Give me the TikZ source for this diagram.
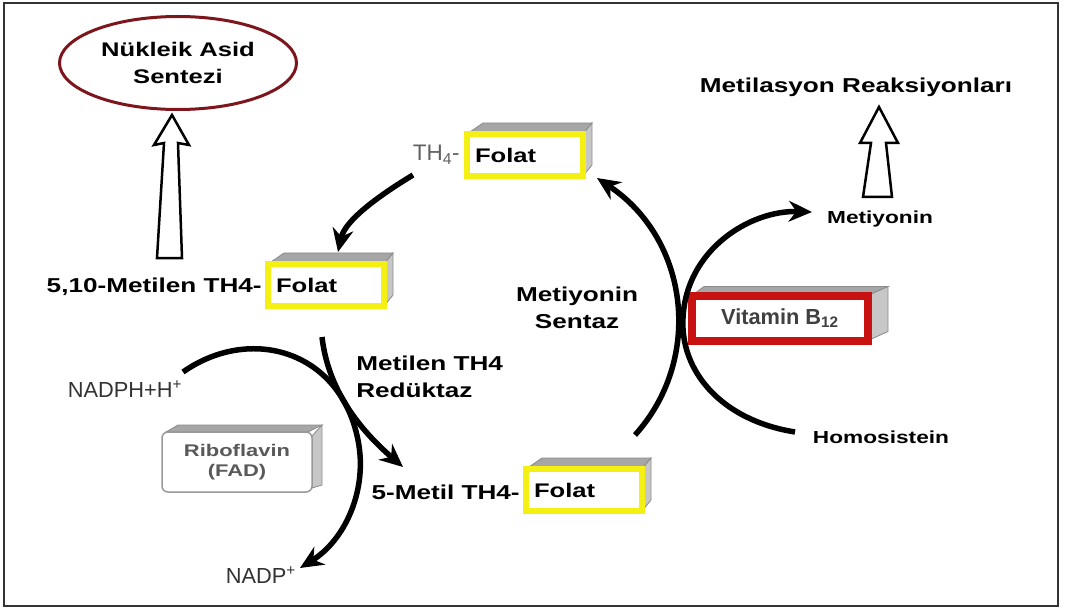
\documentclass[tikz,border=0pt]{standalone}
\usepackage{fontspec}
\setmainfont{Liberation Sans}
\newfontfamily\wide[FakeStretch=1.3]{Liberation Sans}
\usetikzlibrary{arrows.meta,shapes.geometric,backgrounds}
\newlength\pxu
\setlength\pxu{0.025cm}
\definecolor{fyellow}{RGB}{245,240,20}
\definecolor{bred}{RGB}{200,18,18}
\definecolor{ered}{RGB}{125,22,28}
\tikzset{
  frame/.style={draw=black!80, line width=2\pxu},
  flow/.style={line width=5.5\pxu, -{Stealth[length=0.58cm,width=0.52cm]}},
  hollow/.style={draw, fill=white, line width=2.5\pxu, line join=miter},
  bold/.style={font=\wide\bfseries\fontsize{14.3}{19.5}\selectfont, inner sep=0},
  small/.style={font=\wide\bfseries\fontsize{12.4}{15}\selectfont, inner sep=0},
  plain/.style={font=\fontsize{15.5}{18}\selectfont, text=black!80, inner sep=0},
  graytext/.style={font=\fontsize{16}{18}\selectfont, text=black!62, inner sep=0},
  folat/.style={draw=fyellow, line width=6\pxu, fill=white, outer sep=0,
    text width=100\pxu, inner xsep=8\pxu, minimum height=42\pxu, align=left,
    font=\wide\bfseries\fontsize{14}{16}\selectfont},
  vitbox/.style={draw=bred, line width=8\pxu, fill=white, outer sep=0,
    minimum width=176\pxu, minimum height=45\pxu, text=black!75,
    font=\bfseries\fontsize{15.5}{18}\selectfont},
  ribbox/.style={draw=black!40, line width=1.5\pxu, fill=white, outer sep=0,
    rounded corners=6\pxu, minimum width=150\pxu, minimum height=60\pxu,
    align=center, text=black!65, font=\wide\bfseries\fontsize{12}{14.2}\selectfont},
  topface/.style={draw=black!45, fill=black!35, line width=0.6pt},
  sideface/.style={draw=black!45, fill=black!22, line width=0.6pt}
}
\begin{document}
\begin{tikzpicture}[x=0.025cm, y=-0.025cm]
  \useasboundingbox (0,0) rectangle (1066,610);
  \draw[frame] (4,3) rectangle (1058,606);

  % goals
  \node[ellipse, draw=ered, line width=3\pxu, minimum width=237\pxu, minimum height=93\pxu,
    align=center, font=\wide\bfseries\fontsize{14}{19.2}\selectfont, inner sep=0] (nas) at (178,63) {Nükleik Asid\\Sentezi};
  \node[bold] (metrx) at (856,87) {Metilasyon Reaksiyonları};

  % folate boxes and labels
  \node[folat] (folA) at (525,155) {Folat};
  \node[folat] (folB) at (326,285) {Folat};
  \node[folat] (folC) at (584,490) {Folat};
  \node[graytext, anchor=east] (th4) at (460,155) {TH\textsubscript{4}-};
  \node[bold, anchor=east] (mlab) at (262,287) {5,10-Metilen TH4-};
  \node[bold, anchor=east] (mtlab) at (520,492) {5-Metil TH4-};

  % enzymes and cofactors
  \node[bold, align=center] (ms) at (577,308) {Metiyonin\\Sentaz};
  \node[bold, align=left, anchor=west] (mr) at (356,377) {Metilen TH4\\Redüktaz};
  \node[vitbox] (b12) at (780,318) {Vitamin B\textsubscript{12}};
  \node[ribbox] (rib) at (237,462) {Riboflavin\\(FAD)};
  \node[small] (met) at (880,219) {Metiyonin};
  \node[small] (hcy) at (881,437) {Homosistein};
  \node[plain] (nadph) at (125,389) {NADPH+H\textsuperscript{+}};
  \node[plain] (nadp) at (261,575) {NADP\textsuperscript{+}};

  % 3d faces
  \begin{scope}[on background layer]
    \draw[topface] (folA.north west) -- ++(16,-11) -- ([shift={(9,-11)}]folA.north east) -- (folA.north east) -- cycle;
    \draw[sideface] (folA.north east) -- ++(9,-11) -- ([shift={(9,-11)}]folA.south east) -- (folA.south east) -- cycle;
    \draw[topface] (folB.north west) -- ++(16,-11) -- ([shift={(9,-11)}]folB.north east) -- (folB.north east) -- cycle;
    \draw[sideface] (folB.north east) -- ++(9,-11) -- ([shift={(9,-11)}]folB.south east) -- (folB.south east) -- cycle;
    \draw[topface] (folC.north west) -- ++(16,-11) -- ([shift={(9,-11)}]folC.north east) -- (folC.north east) -- cycle;
    \draw[sideface] (folC.north east) -- ++(9,-11) -- ([shift={(9,-11)}]folC.south east) -- (folC.south east) -- cycle;
    \draw[topface] (b12.north west) -- ++(12,-9) -- ([shift={(20,-9)}]b12.north east) -- (b12.north east) -- cycle;
    \draw[sideface] (b12.north east) -- ++(20,-9) -- ([shift={(20,-9)}]b12.south east) -- (b12.south east) -- cycle;
    \draw[topface] ([shift={(4,0)}]rib.north west) -- ++(12,-7) -- ([shift={(10,-7)}]rib.north east) -- ([shift={(-4,0)}]rib.north east) -- cycle;
    \draw[sideface] ([shift={(0,4)}]rib.north east) -- ++(10,-11) -- ([shift={(10,-7)}]rib.south east) -- ([shift={(0,-4)}]rib.south east) -- cycle;
  \end{scope}

  % end points of the reactions
  \coordinate (a1s) at (413,175);
  \coordinate (a1e) at (338,252);
  \coordinate (a2s) at (322,337);
  \coordinate (a2e) at (403,467);
  \coordinate (c1) at (183,372);
  \coordinate (c2) at (358,440);
  \coordinate (c3) at (300,568);
  \coordinate (a3s) at (635,435);
  \coordinate (a3e) at (597,178);
  \coordinate (b1) at (795,432);
  \coordinate (b2) at (683,318);
  \coordinate (b3) at (812,212);
  \coordinate (nast) at (170,258);
  \coordinate (mett) at (877,197);

  % reactions
  \draw[flow] (a1s) .. controls (380,195) and (345,220) .. (a1e);
  \draw[flow] (a2s) .. controls (328,390) and (360,430) .. (a2e);
  \draw[flow] (c1) .. controls (250,325) and (340,350) .. (c2) .. controls (368,490) and (345,540) .. (c3);
  \draw[flow] (a3s) .. controls (703,360) and (690,240) .. (a3e);
  \draw[flow] (b1) .. controls (720,420) and (680,370) .. (b2) .. controls (686,250) and (750,210) .. (b3);

  % open arrows
  \draw[hollow] (nast) +(-13,0) -- +(-6,-115) -- +(-16,-113) -- +(2,-143) -- +(19,-113) -- +(8,-115) -- +(12,0) -- cycle;
  \draw[hollow] (mett) +(-14,0) -- +(-6,-54) -- +(-17,-54) -- +(2,-90) -- +(21,-54) -- +(9,-54) -- +(15,0) -- cycle;
\end{tikzpicture}
\end{document}
